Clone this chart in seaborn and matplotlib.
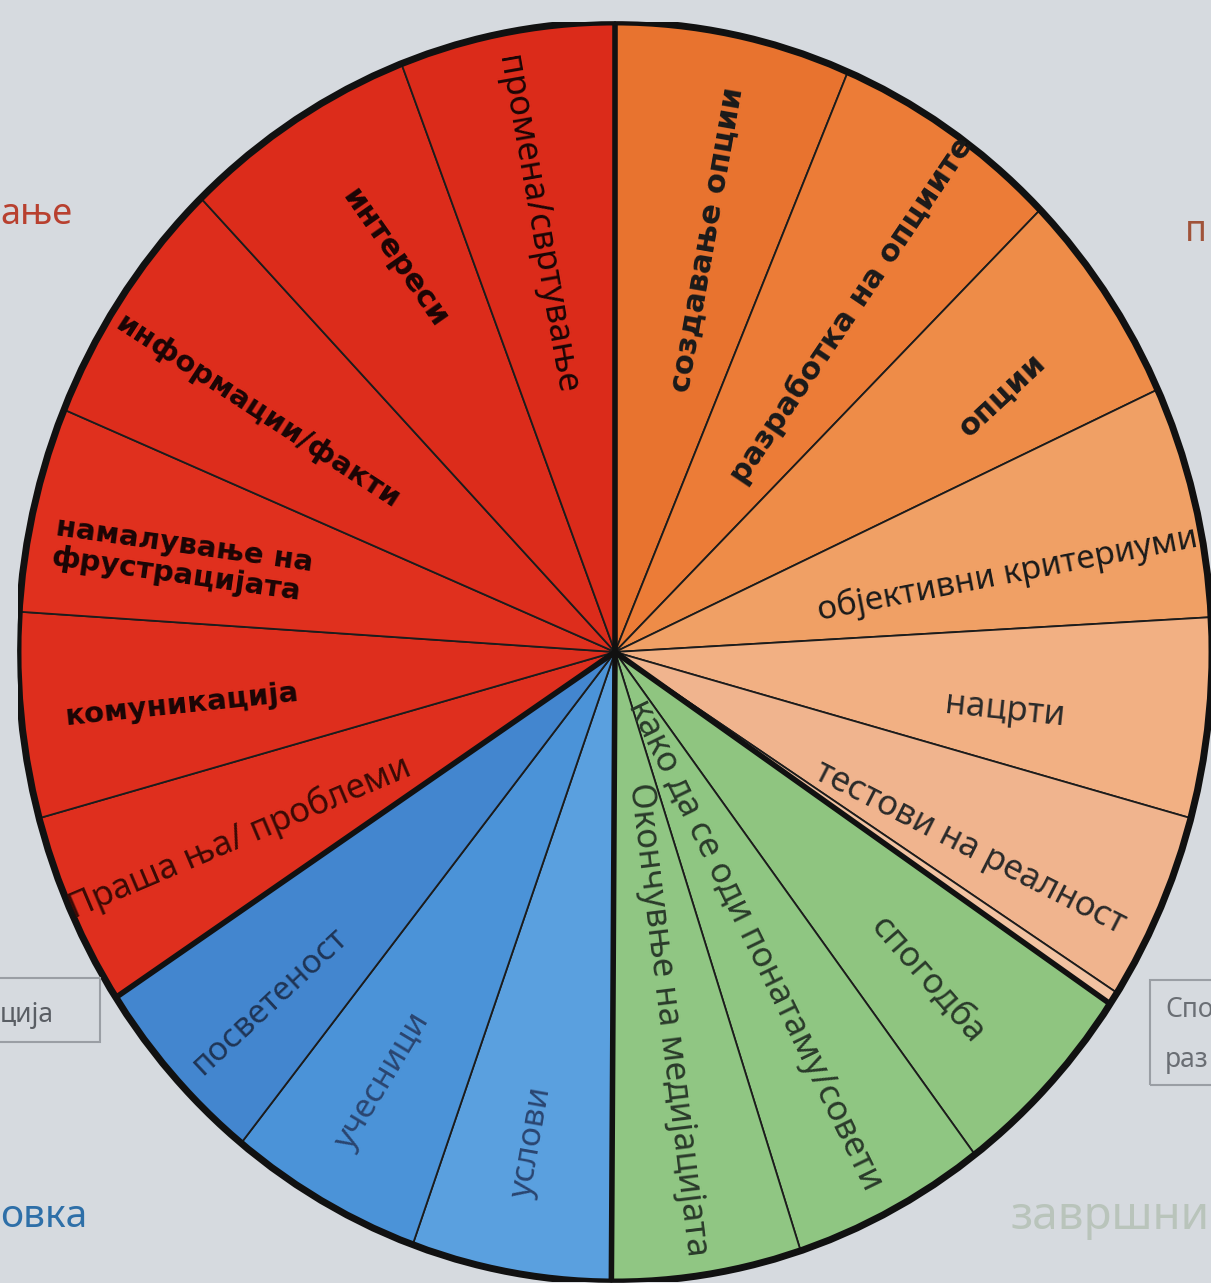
import matplotlib
matplotlib.use("Agg")
import numpy as np
import matplotlib.pyplot as plt
import seaborn as sns
from matplotlib.patches import Circle, Rectangle

# slices clockwise from 12 o'clock (share of the circle)
names = [
    "создавање опции", "разработка на опциите", "опции", "објективни критериуми",
    "нацрти", "тестови на реалност", "",
    "спогодба", "како да се оди понатаму/совети", "Окончувње на медијацијата",
    "услови", "учесници", "посветеност",
    "Праша ња/ проблеми", "комуникација", "намалување на\nфрустрацијата",
    "информации/факти", "интереси", "промена/свртување",
]
values = [23, 22.5, 20, 21.5, 18.5, 17.5, 1.2,
          19, 19, 18.5,
          19.5, 19, 18,
          18, 19, 19, 23.5, 23, 21]
colors = ["#E8732F", "#EC7C37", "#EE8C48", "#F0A065", "#F2B083", "#F0B48E", "#F2C3A2",
          "#8FC580", "#8FC682", "#90C683",
          "#5AA0DF", "#4B93D8", "#4386CF",
          "#DF2F1E", "#DE2E1D", "#E0301E", "#DD2D1C", "#DC2C1B", "#DB2B1A"]
group_ends = [0, 7, 10, 13]  # thick boundaries (index of first slice after)

# outside fragments of the slide behind the chart
side_texts = ["ање", "п", "ција", "Спо", "раз", "овка", "завршни"]

# label layout: pixel centre, rotation, size, bold?, colour
label_layout = [
    (707, 240, 80, 22, True, "#1a1a1a"),
    (852, 310, 56, 22, True, "#1a1a1a"),
    (1002, 395, 43, 22, True, "#1a1a1a"),
    (1008, 574, 11, 24, False, "#1a1a1a"),
    (1005, 710, -6, 25, False, "#2a2a2a"),
    (970, 848, -27, 25, False, "#2a2a2a"),
    (0, 0, 0, 1, False, "#000000"),
    (928, 980, -49, 25, False, "#2a3a2a"),
    (755, 945, -64, 25, False, "#2a3a2a"),
    (668, 1020, -83, 25, False, "#2a3a2a"),
    (532, 1143, 80, 24, False, "#2a4570"),
    (383, 1082, 59, 24, False, "#2a4570"),
    (270, 1002, 43, 24, False, "#1f3556"),
    (240, 838, 23, 25, False, "#3a0a05"),
    (182, 705, 6, 21, True, "#1a0505"),
    (182, 560, -8, 21, True, "#1a0505"),
    (258, 412, -33, 21, True, "#1a0505"),
    (395, 258, -55, 22, True, "#1a0505"),
    (537, 225, -80, 25, False, "#1a0505"),
]

W, H = 1211, 1283
sns.set_theme(style="white")
plt.rcParams["font.family"] = ["Noto Sans", "DejaVu Sans"]

fig = plt.figure(figsize=(W / 100, H / 100), dpi=100)
fig.patch.set_facecolor("#D6DADF")


def px(x, y):
    return x / W, 1 - y / H


# slide fragments behind the pie
fig.patches.append(Rectangle(px(-5, 1042), 105 / W, 64 / H, transform=fig.transFigure,
                             fill=False, edgecolor="#9a9ea4", linewidth=1.5))
fig.patches.append(Rectangle(px(1150, 1085), 80 / W, 105 / H, transform=fig.transFigure,
                             fill=False, edgecolor="#9a9ea4", linewidth=1.5))
side_pos = [(0, 215, "#B8402F", 26), (1185, 232, "#A0533A", 26),
            (0, 1015, "#5a5e64", 19), (1165, 1010, "#6a6e74", 19),
            (1165, 1060, "#6a6e74", 19), (0, 1217, "#2E6FA8", 28),
            (1010, 1217, "#B9C4BB", 33)]
for t, (x, y, c, s) in zip(side_texts, side_pos):
    fig.text(*px(x, y), t, color=c, fontsize=s, ha="left", va="center")

# pie axes: slightly taller than wide, as in the photo
cx, cy, rx, ry = 615, 652, 597, 630
ax = fig.add_axes([(cx - rx) / W, (H - cy - ry) / H, 2 * rx / W, 2 * ry / H])
wedges, _ = ax.pie(values, colors=colors, startangle=90, counterclock=False,
                   wedgeprops=dict(edgecolor="#1c1c1c", linewidth=1.3))
ax.set_xlim(-1, 1)
ax.set_ylim(-1, 1)
ax.set_aspect("auto")
ax.axis("off")

bounds = 90 - np.concatenate([[0], np.cumsum(values)]) / sum(values) * 360
for i in group_ends:
    a = np.deg2rad(bounds[i])
    ax.plot([0, np.cos(a)], [0, np.sin(a)], color="#111111", linewidth=4, solid_capstyle="butt")
ax.add_patch(Circle((0, 0), 1, fill=False, edgecolor="#111111", linewidth=5))

for name, (x, y, rot, s, bold, c) in zip(names, label_layout):
    if not name:
        continue
    fam = ["DejaVu Sans"] if bold else ["Noto Sans", "DejaVu Sans"]
    fig.text(*px(x, y), name, rotation=rot, fontsize=s, family=fam,
             fontweight="bold" if bold else "normal", color=c,
             ha="center", va="center", rotation_mode="anchor", linespacing=1.1,
             multialignment="left")

fig.savefig("out.png", dpi=100)
